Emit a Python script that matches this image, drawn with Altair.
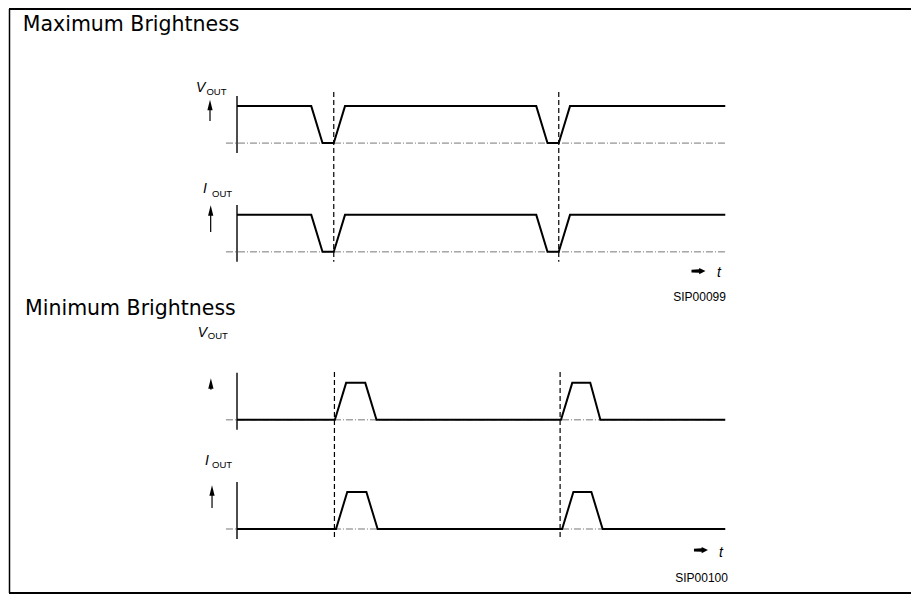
import altair as alt
import pandas as pd

# ---------------- data ----------------
PANELS = ["max_v", "max_i", "min_v", "min_i"]
BASELINES = [10.43, 7.49, 2.95, 0.0]          # zero level of each trace
SIGNAL_LETTERS = ["V", "I", "V", "I"]
SUBSCRIPT = "OUT"

MAX_V_T = [0, 3.3, 3.8, 4.3, 4.8, 13.3, 13.8, 14.3, 14.8, 21.7]
MAX_V = [1, 1, 0, 0, 1, 1, 0, 0, 1, 1]
MAX_I_T = [0, 3.3, 3.8, 4.3, 4.8, 13.3, 13.8, 14.3, 14.8, 21.7]
MAX_I = [1, 1, 0, 0, 1, 1, 0, 0, 1, 1]
MIN_V_T = [0, 4.35, 4.85, 5.7, 6.2, 14.4, 14.9, 15.7, 16.15, 21.7]
MIN_V = [0, 0, 1, 1, 0, 0, 1, 1, 0, 0]
MIN_I_T = [0, 4.4, 4.9, 5.75, 6.25, 14.45, 14.95, 15.75, 16.25, 21.7]
MIN_I = [0, 0, 1, 1, 0, 0, 1, 1, 0, 0]

MARK_MAX = [4.3, 14.3]
MARK_MIN = [4.33, 14.36]

TITLES = ["Maximum Brightness", "Minimum Brightness"]
CODES = ["SIP00099", "SIP00100"]
TIME_LABEL = "t"

# ---------------- layout ----------------
W, H = 905, 587
XS = alt.Scale(domain=[-10.178, 30.044], nice=False, zero=False)
YS = alt.Scale(domain=[-1.784, 14.081], nice=False, zero=False)


def X(f):
    return alt.X(f, type="quantitative", scale=XS, axis=None)


def Y(f):
    return alt.Y(f, type="quantitative", scale=YS, axis=None)


def X2(f):
    return alt.X2(f)


def Y2(f):
    return alt.Y2(f)


# waveforms
rows = []
for name, base, ts, lv in zip(PANELS, BASELINES,
                              [MAX_V_T, MAX_I_T, MIN_V_T, MIN_I_T],
                              [MAX_V, MAX_I, MIN_V, MIN_I]):
    for i, (t, v) in enumerate(zip(ts, lv)):
        rows.append({"panel": name, "i": i, "t": t, "y": base + v})
wave_df = pd.DataFrame(rows)

# baselines (dash-dot) and axes
base_df = pd.DataFrame({"x": [-0.49] * 4, "x2": [21.73] * 4, "y": BASELINES})
axis_df = pd.DataFrame({"x": [0.0] * 4,
                        "y": [b - 0.27 for b in BASELINES],
                        "y2": [b + 1.27 for b in BASELINES]})

# dashed time markers
mark_df = pd.DataFrame({
    "x": MARK_MAX + MARK_MIN,
    "y": [11.81, 11.81, 4.24, 4.24],
    "y2": [7.22, 7.22, -0.30, -0.30],
})

# titles
title_df = pd.DataFrame({"text": TITLES, "x": [-9.52, -9.42], "y": [13.47, 5.78]})

# signal names
sig_df = pd.DataFrame({"text": SIGNAL_LETTERS,
                       "x": [-1.82, -1.51, -1.75, -1.42],
                       "y": [11.81, 9.08, 5.19, 1.73]})
sub_df = pd.DataFrame({"text": [SUBSCRIPT] * 4,
                       "x": [-1.36, -1.11, -1.30, -1.11],
                       "y": [11.73, 8.97, 5.14, 1.65]})

# up arrows next to signal names
arr_x = [-1.2, -1.17, -1.16, -1.11]
arr_top = [1.18, 1.27, 1.13, 1.19]
arr_bot = [0.60, 0.54, 0.81, 0.57]
up_head_df = pd.DataFrame({"x": arr_x,
                           "y": [b + t - 0.15 for b, t in zip(BASELINES, arr_top)]})
up_shaft_df = pd.DataFrame({"x": arr_x,
                            "y": [b + t - 0.15 for b, t in zip(BASELINES, arr_top)],
                            "y2": [b + d for b, d in zip(BASELINES, arr_bot)]})

# time arrows and codes
tarrow_df = pd.DataFrame({"x": [20.51, 20.62], "y": [6.97, -0.57]})
tlabel_df = pd.DataFrame({"text": [TIME_LABEL] * 2, "x": [21.33, 21.42], "y": [6.82, -0.76]})
code_df = pd.DataFrame({"text": CODES, "x": [21.73, 21.82], "y": [6.15, -1.42]})

one = pd.DataFrame({"a": [0]})

layers = []

layers.append(alt.Chart(base_df).mark_rule(color="#777777", strokeWidth=1,
                                           strokeDash=[7, 2, 1, 2]).encode(
    x=X("x"), x2=X2("x2"), y=Y("y")))

layers.append(alt.Chart(axis_df).mark_rule(color="black", strokeWidth=1.4).encode(
    x=X("x"), y=Y("y"), y2=Y2("y2")))

layers.append(alt.Chart(mark_df).mark_rule(color="black", strokeWidth=1.2,
                                           strokeDash=[5, 3]).encode(
    x=X("x"), y=Y("y"), y2=Y2("y2")))

layers.append(alt.Chart(wave_df).mark_line(color="black", strokeWidth=2,
                                           strokeJoin="miter").encode(
    x=X("t"), y=Y("y"), detail="panel:N", order="i:Q"))

layers.append(alt.Chart(title_df).mark_text(align="left", baseline="alphabetic",
                                            font="DejaVu Sans", fontSize=20.5,
                                            color="black").encode(
    x=X("x"), y=Y("y"), text="text:N"))

layers.append(alt.Chart(sig_df).mark_text(align="left", baseline="alphabetic",
                                          font="Liberation Sans", fontSize=14,
                                          fontStyle="italic", color="black").encode(
    x=X("x"), y=Y("y"), text="text:N"))

layers.append(alt.Chart(sub_df).mark_text(align="left", baseline="alphabetic",
                                          font="Liberation Sans", fontSize=9.5,
                                          color="black").encode(
    x=X("x"), y=Y("y"), text="text:N"))

layers.append(alt.Chart(up_shaft_df).mark_rule(color="black", strokeWidth=1.2).encode(
    x=X("x"), y=Y("y"), y2=Y2("y2")))

layers.append(alt.Chart(up_head_df).mark_point(shape="M0,-1L0.5,1L-0.5,1Z", size=110,
                                               filled=True, color="black",
                                               opacity=1).encode(
    x=X("x"), y=Y("y")))

layers.append(alt.Chart(tarrow_df).mark_point(
    shape="M-1,-0.2L0.1,-0.25L0.1,-0.45L1,0L0.1,0.45L0.1,0.25L-1,0.2Z",
    size=196, filled=True, color="black", opacity=1).encode(
    x=X("x"), y=Y("y")))

layers.append(alt.Chart(tlabel_df).mark_text(align="left", baseline="alphabetic",
                                             font="Liberation Sans", fontSize=14,
                                             fontStyle="italic", color="black").encode(
    x=X("x"), y=Y("y"), text="text:N"))

layers.append(alt.Chart(code_df).mark_text(align="right", baseline="alphabetic",
                                           font="Liberation Sans", fontSize=12,
                                           color="black").encode(
    x=X("x"), y=Y("y"), text="text:N"))

# frame (top, left, bottom; the right edge is open in the scan)
layers.append(alt.Chart(one).mark_rule(color="black", strokeWidth=2).encode(
    x=alt.value(1), x2=alt.value(W - 2), y=alt.value(1)))
layers.append(alt.Chart(one).mark_rule(color="black", strokeWidth=1.5).encode(
    x=alt.value(1.5), y=alt.value(1), y2=alt.value(585)))
layers.append(alt.Chart(one).mark_rule(color="black", strokeWidth=2).encode(
    x=alt.value(1), x2=alt.value(W - 2), y=alt.value(585)))

chart = alt.layer(*layers).properties(
    width=W, height=H, padding=0, autosize=alt.AutoSizeParams(type="none"),
    background="white",
).configure_view(stroke="white", strokeOpacity=0, strokeWidth=0)

chart.save("out.html", embed_options={"renderer": "svg", "actions": False})
